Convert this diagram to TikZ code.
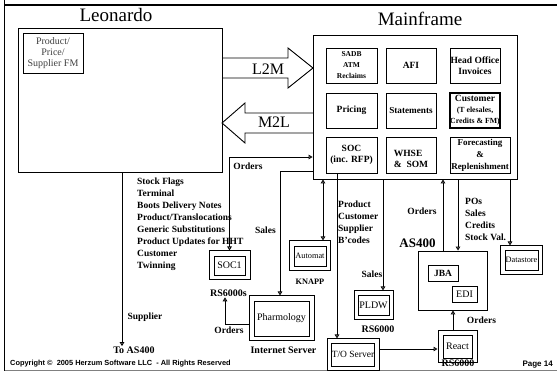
\documentclass[tikz,border=0pt]{standalone}
\usepackage{fontspec}
\setmainfont{Liberation Serif}
\newfontfamily\sansfam{Liberation Sans}
\usetikzlibrary{arrows.meta}
\tikzset{
  bx/.style={draw, line width=0.9pt, inner sep=0pt, align=center},
  mb/.style={bx, font=\bfseries\fontsize{9.5}{11}\selectfont, minimum width=51pt, minimum height=35pt},
  outerbox/.style={draw, line width=1pt, inner sep=0pt},
  innerbox/.style={draw, line width=0.9pt, inner sep=0pt, align=center, font=\fontsize{10}{12}\selectfont},
  lbl/.style={inner sep=0pt, anchor=base, font=\bfseries\fontsize{9.5}{11}\selectfont},
  lst/.style={inner sep=0pt, anchor=north west, align=left, font=\bfseries\fontsize{9.5}{12}\selectfont},
  arr/.style={line width=0.9pt, -{Triangle[open,length=4pt,width=4.5pt]}},
  darr/.style={line width=0.9pt, {Triangle[open,length=4pt,width=4.5pt]}-{Triangle[open,length=4pt,width=4.5pt]}},
  blk/.style={line width=0.9pt, line join=miter},
  title/.style={inner sep=0pt, font=\fontsize{19}{22}\selectfont},
  big/.style={inner sep=0pt, font=\fontsize{16}{18}\selectfont},
}
\begin{document}
\begin{tikzpicture}[x=1pt,y=-1pt]
\useasboundingbox (0,0) rectangle (557,371);
% page frame
\draw[line width=2pt] (4,5) -- (557,5);
\draw[line width=0.8pt] (4.5,0) -- (4.5,371);
\draw[line width=0.8pt, black!50] (4.5,370) -- (557,370);

% titles
\node[title] (tleo) at (116,15.5) {Leonardo};
\node[title] (tmain) at (420,19) {Mainframe};

% Leonardo
\node[bx, minimum width=204pt, minimum height=144pt] (leo) at (120,100) {};
\node[bx, minimum width=60pt, minimum height=40pt, text=black!75,
      font=\fontsize{10}{11.3}\selectfont] (pfm) at (53,53) {Product/\\Price/\\Supplier FM};

% Mainframe
\node[bx, minimum width=204pt, minimum height=144pt] (main) at (415,107) {};
\node[mb, font=\bfseries\fontsize{7.5}{11}\selectfont] (sadb) at (351.5,65.5) {SADB\\ATM\\Reclaims};
\node[mb, minimum width=50pt] (afi) at (411,65.5) {AFI};
\node[mb, minimum width=50pt] (hoi) at (475,65.5) {Head Office\\Invoices};
\node[mb] (pricing) at (351.5,110.5) {Pricing};
\node[mb, minimum width=50pt, font=\bfseries\fontsize{9.2}{11}\selectfont] (stmt) at (411,110.5) {Statements};
\node[mb, minimum width=50pt, line width=1.2pt, font=\bfseries\fontsize{7.8}{11}\selectfont] (cust) at (475,110.5)
  {{\fontsize{9.5}{11}\selectfont Customer}\\(T elesales,\\Credits \& FM)};
\node[mb, minimum height=36pt] (soc) at (351.5,155) {SOC\\(inc. RFP)};
\node[mb, minimum width=50pt, minimum height=36pt, align=left] (whse) at (411,155) {\rule{0pt}{14.3pt}WHSE\\\&\ \ SOM};
\node[mb, minimum width=60pt, minimum height=36pt, font=\bfseries\fontsize{9}{12}\selectfont] (fore) at (480,155) {Forecasting\\\&\\Replenishment};

% block arrows
\draw[blk] (222,58) -- (288,58) -- (288,48) -- (313,68) -- (288,88) -- (288,78) -- (222,78);
\node[big] (l2m) at (268,69) {L2M};
\draw[blk] (313,113) -- (245,113) -- (245,103) -- (222,123) -- (245,143) -- (245,133) -- (313,133);
\node[big] (m2l) at (274,122.5) {M2L};

% lower systems
\node[outerbox, minimum width=41pt, minimum height=29pt] (soc1) at (229.5,265.5) {};
\node[innerbox, minimum width=31pt, minimum height=19pt] (soc1i) at (229.5,265.5) {SOC1};
\node[outerbox, minimum width=65pt, minimum height=45pt] (pharm) at (281.5,318.5) {};
\node[innerbox, minimum width=55pt, minimum height=35pt] (pharmi) at (281.5,318.5) {Pharmology};
\node[outerbox, minimum width=41pt, minimum height=30pt] (automat) at (309.5,256) {};
\node[innerbox, minimum width=32pt, minimum height=20pt, font=\fontsize{8.3}{10}\selectfont] (automati) at (310,256) {Automat};
\node[outerbox, minimum width=39pt, minimum height=29pt] (pldw) at (373.5,305.5) {};
\node[innerbox, minimum width=31pt, minimum height=20pt] (pldwi) at (373.5,305) {PLDW};
\node[outerbox, minimum width=52pt, minimum height=31pt] (tos) at (353,354.5) {};
\node[innerbox, minimum width=42pt, minimum height=23pt, font=\fontsize{9.5}{11}\selectfont] (tosi) at (353,354.5) {T/O Server};
\node[outerbox, minimum width=39pt, minimum height=31pt] (react) at (457.5,346.5) {};
\node[innerbox, minimum width=29pt, minimum height=23pt] (reacti) at (457.5,346.5) {React};
\node[outerbox, minimum width=42pt, minimum height=29pt] (ds) at (521,260.5) {};
\node[innerbox, minimum width=33pt, minimum height=20pt, font=\fontsize{8.3}{10}\selectfont] (dsi) at (521.5,260) {Datastore};
\node[bx, minimum width=69pt, minimum height=59pt] (as400) at (452.5,280.5) {};
\node[bx, minimum width=30pt, minimum height=16pt, font=\bfseries\fontsize{9.5}{11}\selectfont] (jba) at (443,273) {JBA};
\node[bx, minimum width=25pt, minimum height=16pt, font=\fontsize{10}{12}\selectfont] (edi) at (464.5,294) {EDI};

% labels
\node[lst] (leolist) at (137,177.6) {Stock Flags\\Terminal\\Boots Delivery Notes\\Product/Translocations\\Generic Substitutions\\Product Updates for HHT\\Customer\\Twinning};
\node[lst] (prodlist) at (338,200.6) {Product\\Customer\\Supplier\\B’codes};
\node[lst] (polist) at (465,198) {POs\\Sales\\Credits\\Stock Val.};
\node[lbl] (lord1) at (248,170) {Orders};
\node[lbl] (lsales1) at (265.5,234) {Sales};
\node[lbl] (lsales2) at (372,278) {Sales};
\node[lbl, font=\bfseries\fontsize{8.3}{10}\selectfont] (knapp) at (310,285) {KNAPP};
\node[lbl, font=\bfseries\fontsize{10}{12}\selectfont] (rs2) at (378,333) {RS6000};
\node[lbl] (lord2) at (422,215) {Orders};
\node[lbl, font=\bfseries\fontsize{13}{15}\selectfont] (as4l) at (417.5,248) {AS400};
\node[lbl] (lord3) at (481.5,323.5) {Orders};
\node[lbl, font=\bfseries\fontsize{10}{12}\selectfont] (rs3) at (458,366.5) {RS6000};
\node[lbl, font=\bfseries\fontsize{10}{12}\selectfont] (rs1) at (228.5,297) {RS6000s};
\node[lbl] (lord4) at (229,334) {Orders};
\node[lbl, font=\bfseries\fontsize{10}{12}\selectfont] (inet) at (283.5,353) {Internet Server};
\node[lbl] (lsupp) at (145,320) {Supplier};
\node[lbl, font=\bfseries\fontsize{10}{12}\selectfont] (toas) at (134,353) {To AS400};
\node[inner sep=0pt, anchor=base west, font=\sansfam\bfseries\fontsize{7.4}{9}\selectfont] (copy) at (10,366)
  {Copyright ©\ \ 2005 Herzum Software LLC\ \ - All Rights Reserved};
\node[inner sep=0pt, anchor=base east, font=\sansfam\bfseries\fontsize{8}{10}\selectfont] (page) at (553,366.5) {Page 14};

% connectors
\draw[darr] (main.west |- 0,157) -| (soc1.north);
\draw[arr] (main.west |- 0,171) -| (pharm.north -| 280,0);
\draw[arr] (pharm.west |- 0,324) -| (rs1.south -| 225,0);
\draw[arr] (leo.south -| 122,0) -- (toas.north -| 122,0);
\draw[darr] (main.south -| 323,0) -- (automat.north -| 323,0);
\draw[arr] (soc.south -| 337,0) -- (tos.north -| 337,0);
\draw[arr] (main.south -| 383,0) -- (pldw.north -| 383,0);
\draw[arr] (as400.north -| 443,0) -- (main.south -| 443,0);
\draw[arr] (main.south -| 458,0) -- (as400.north -| 458,0);
\draw[arr] (main.south -| 510,0) -- (ds.north -| 510,0);
\draw[arr] (react.north -| 453,0) -- (as400.south -| 453,0);
\draw[arr] (tos.east |- 0,349) -- (react.west |- 0,349);
\end{tikzpicture}
\end{document}
